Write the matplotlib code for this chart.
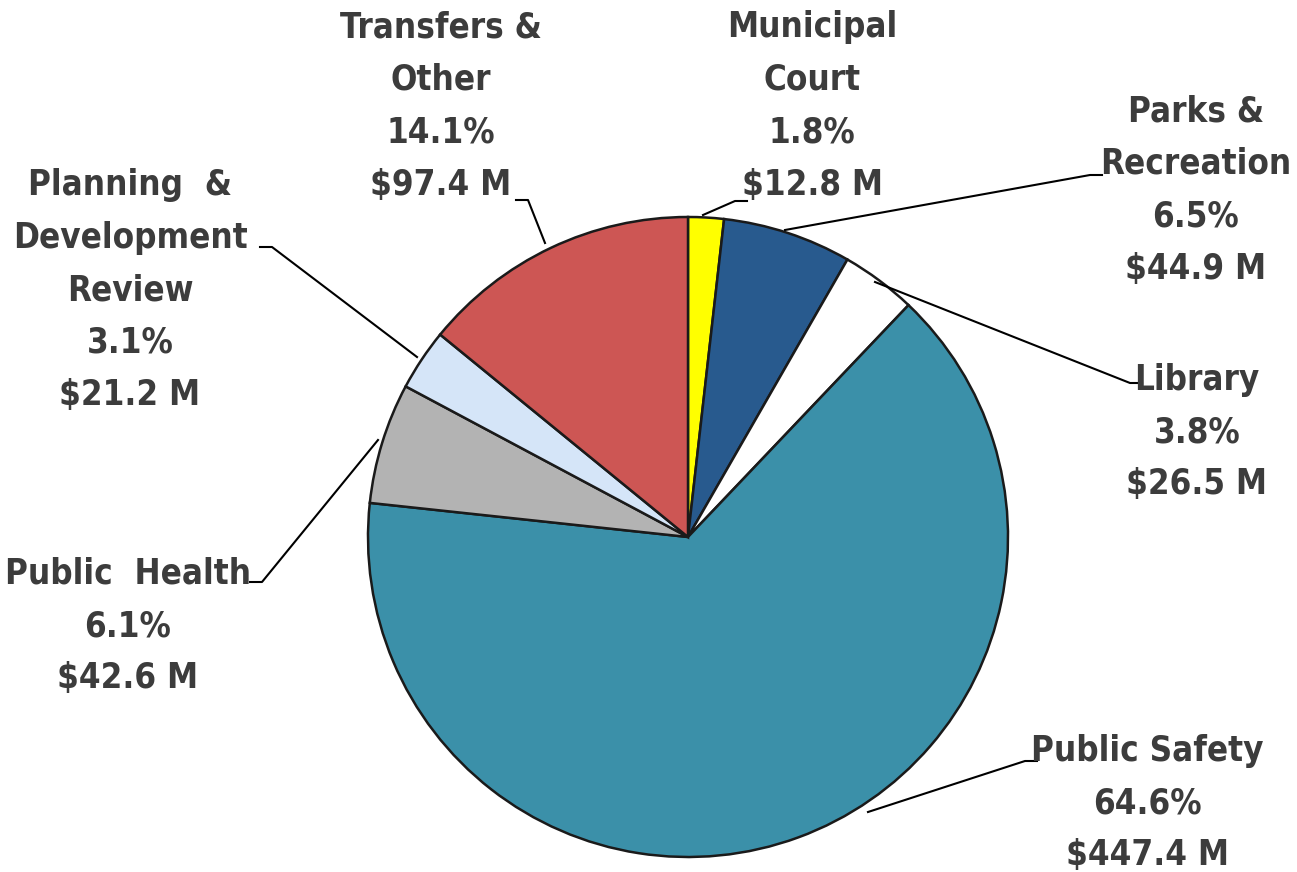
import matplotlib
matplotlib.use("Agg")
import matplotlib.pyplot as plt

# budget by department, clockwise from 12 o'clock
names = ["Municipal\nCourt", "Parks &\nRecreation", "Library", "Public Safety",
         "Public  Health", "Planning  &\nDevelopment\nReview", "Transfers &\nOther"]
pcts = [1.8, 6.5, 3.8, 64.6, 6.1, 3.1, 14.1]
money = [12.8, 44.9, 26.5, 447.4, 42.6, 21.2, 97.4]
colors = ["#ffff00", "#285a8e", "#ffffff", "#3b90a9", "#b3b3b3", "#d5e5f8", "#cd5654"]

# label centre and leader line (pixel positions in the 1297x872 picture)
lab_xy = [(812, 106), (1196, 190), (1197, 432), (1147, 803), (128, 626), (130, 290), (441, 106)]
knee = [(735, 201), (1090, 175), (1130, 383), (1025, 761), (262, 582), (272, 247), (528, 200)]
tip = [(703, 215), (785, 230), (875, 282), (868, 812), (378, 440), (417, 357), (545, 243)]

cx, cy, R = 688, 537, 320
W, H = 1297, 872

def d(p):
    return ((p[0] - cx) / R, (cy - p[1]) / R)

fig = plt.figure(figsize=(W / 100, H / 100), dpi=100)
ax = fig.add_axes([0, 0, 1, 1])
ax.pie(pcts, colors=colors, startangle=90, counterclock=False, radius=1,
       wedgeprops=dict(edgecolor="#1a1a1a", linewidth=1.8))
ax.set_xlim(-cx / R, (W - cx) / R)
ax.set_ylim(-(H - cy) / R, cy / R)
ax.set_aspect("equal")
ax.axis("off")

for i in range(len(names)):
    txt = "%s\n%.1f%%\n$%.1f M" % (names[i], pcts[i], money[i])
    x, y = d(lab_xy[i])
    ax.text(x, y, txt, ha="center", va="center", fontsize=25, fontweight="bold",
            fontstretch="condensed", color="#3c3c3c", family="DejaVu Sans",
            linespacing=1.68)
    k = d(knee[i])
    t = d(tip[i])
    # short horizontal stub next to text, then line to slice
    if k[0] > x:
        stub = (k[0] - 12 / R, k[1])
    else:
        stub = (k[0] + 12 / R, k[1])
    ax.plot([stub[0], k[0], t[0]], [stub[1], k[1], t[1]], color="black", lw=1.5)

fig.savefig("out.png", dpi=100)
